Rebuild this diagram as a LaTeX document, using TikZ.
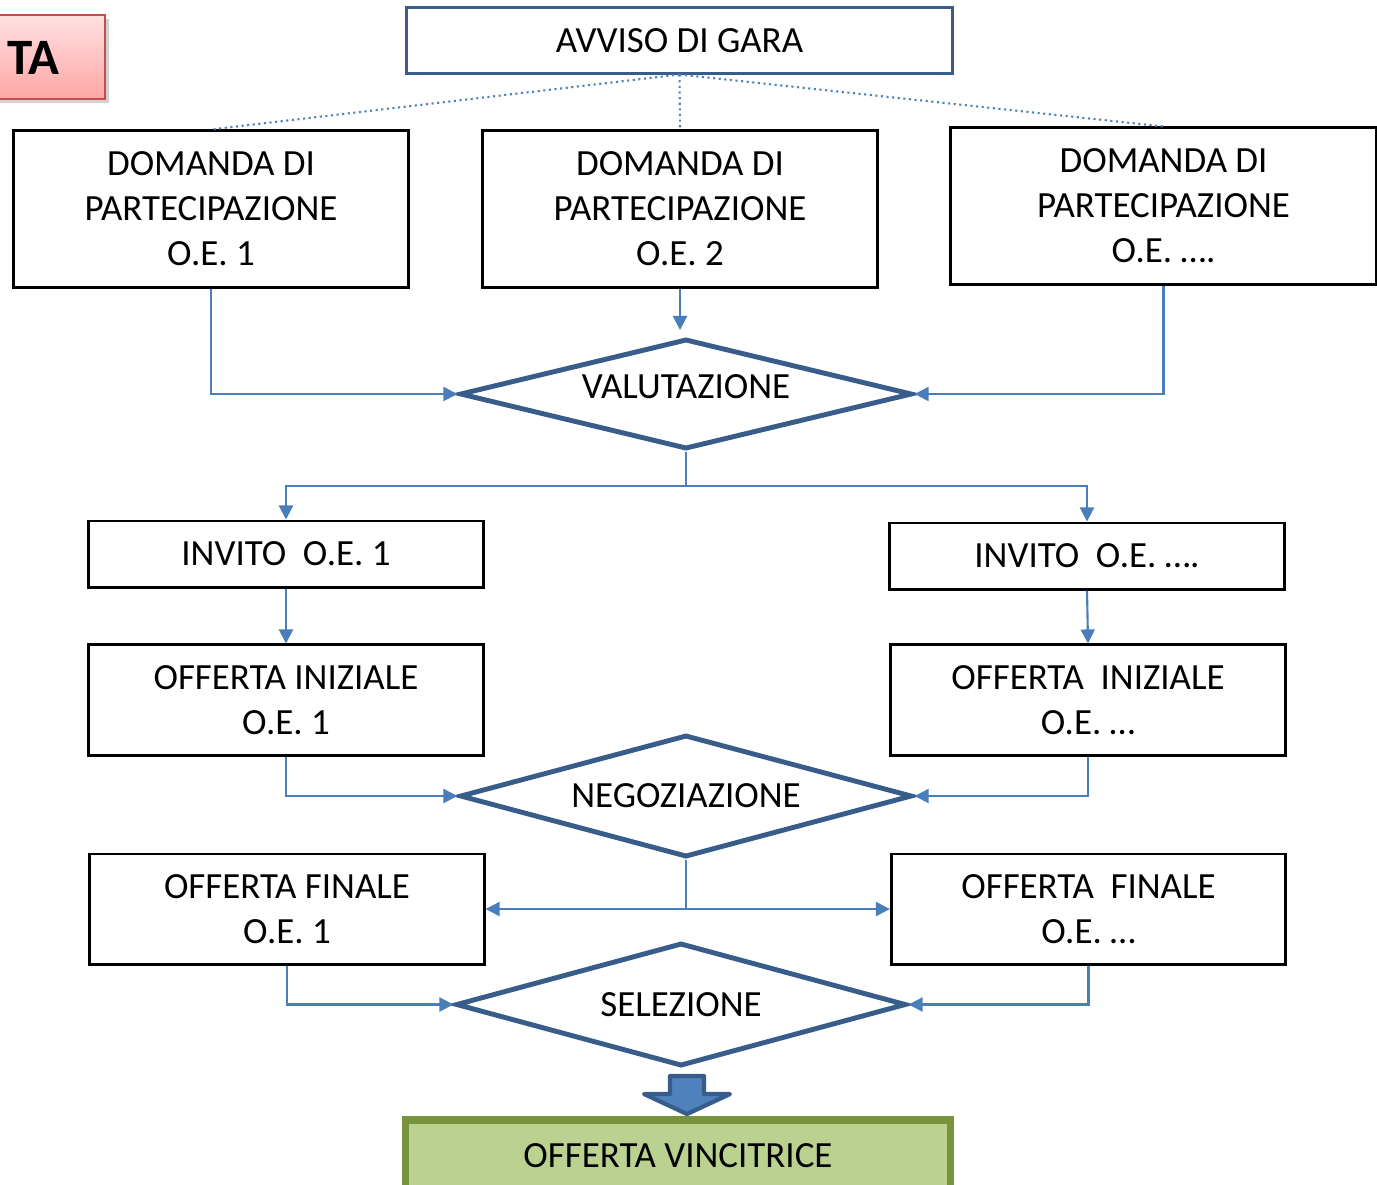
\documentclass[tikz,border=0pt]{standalone}
\usepackage{fontspec}
\setmainfont{Carlito}
\usetikzlibrary{positioning,shapes.geometric,arrows.meta,calc}
\definecolor{cframe}{HTML}{385D8A}
\definecolor{cline}{HTML}{4A7EBB}
\definecolor{cfill}{HTML}{4F81BD}
\definecolor{cgreen}{HTML}{BAD18F}
\definecolor{cgreenb}{HTML}{77933C}
\definecolor{cred}{HTML}{C0504D}

\begin{document}
\begin{tikzpicture}[x=0.01cm, y=-0.01cm,
    every node/.style={font=\fontsize{10.5}{12.8}\selectfont},
    box/.style={draw=black, line width=0.85pt, align=center, inner sep=0pt, minimum width=3.94cm},
    dia/.style={diamond, draw=cframe, line width=1.4pt, inner sep=0pt, minimum width=4.52cm},
    conn/.style={cline, line width=0.6pt, -{Triangle[length=4pt,width=4pt]}},
    link/.style={cline, line width=0.6pt}]
  \useasboundingbox (0,0) rectangle (1377,1184);
  \clip (0,0) rectangle (1377,1184);
  % title tab, cut at the left edge
  \fill[black!18] (-100,19) rectangle (109,103);
  \shade[top color=red!12, bottom color=red!35, draw=cred, line width=0.6pt] (-100,15) rectangle (105,99);
  \node[anchor=east, inner sep=0pt, font=\bfseries\fontsize{14.5}{16}\selectfont] (titolo) at (60,58) {TA};
  % boxes
  \node[box, draw=cframe, minimum width=5.45cm, minimum height=0.65cm] (avviso) at (679.5,40.5) {AVVISO DI GARA};
  \node[box, minimum height=1.56cm] (dom1) at (211,209) {DOMANDA DI\\PARTECIPAZIONE\\O.E. 1};
  \node[box, minimum height=1.56cm] (dom2) at (680,209) {DOMANDA DI\\PARTECIPAZIONE\\O.E. 2};
  \node[box, minimum width=4.25cm, minimum height=1.56cm] (dom3) at (1163.5,206) {DOMANDA DI\\PARTECIPAZIONE\\O.E. ….};
  \node[dia, aspect=4.1, minimum height=1.10cm] (val) at (686,394) {\raisebox{4pt}{VALUTAZIONE}};
  \node[box, minimum height=0.66cm] (inv1) at (286,554) {INVITO~ O.E. 1};
  \node[box, minimum height=0.66cm] (inv2) at (1087,556) {INVITO~ O.E. ….};
  \node[box, minimum height=1.10cm] (ini1) at (286,700) {OFFERTA INIZIALE\\O.E. 1};
  \node[box, minimum height=1.10cm] (ini2) at (1088,700) {OFFERTA~ INIZIALE\\O.E. …};
  \node[dia, aspect=3.7, minimum height=1.22cm] (neg) at (686,796) {NEGOZIAZIONE};
  \node[box, minimum height=1.10cm] (fin1) at (287,909) {OFFERTA FINALE\\O.E. 1};
  \node[box, minimum height=1.10cm] (fin2) at (1088.5,909) {OFFERTA~ FINALE\\O.E. …};
  \node[dia, aspect=3.66, minimum width=4.50cm, minimum height=1.23cm] (sel) at (681,1004.5) {SELEZIONE};
  \node[box, draw=cgreenb, fill=cgreen, line width=2pt, minimum width=5.45cm, minimum height=0.72cm] (vinc) at (678,1156) {OFFERTA VINCITRICE};
  % dotted links from the notice
  \draw[cfill, line width=0.6pt, densely dotted] (avviso.south) -- (dom1.north);
  \draw[cfill, line width=0.6pt, densely dotted] (avviso.south) -- (dom2.north);
  \draw[cfill, line width=0.6pt, densely dotted] (avviso.south) -- (dom3.north);
  % connectors
  \coordinate (valin) at (680,330);
  \coordinate (split1) at (686,486);
  \coordinate (split2) at (686,909);
  \draw[conn] (dom1.south) |- (val.west);
  \draw[conn] (dom2.south) -- (valin);
  \draw[conn] (dom3.south) |- (val.east);
  \draw[link] (val.south) -- (split1);
  \draw[conn] (split1) -| (inv1.north);
  \draw[conn] (split1) -| (inv2.north);
  \draw[conn] (inv1.south) -- (ini1.north);
  \draw[conn] (inv2.south) -- (ini2.north);
  \draw[conn] (ini1.south) |- (neg.west);
  \draw[conn] (ini2.south) |- (neg.east);
  \draw[link] (neg.south) -- (split2);
  \draw[conn] (split2) -- (fin1.east);
  \draw[conn] (split2) -- (fin2.west);
  \draw[conn] (fin1.south) |- (sel.west);
  \draw[conn] (fin2.south) |- (sel.east);
  % block arrow to the winner
  \draw[cframe, fill=cfill, line width=1.2pt, line join=round]
    (670,1076) -- (704,1076) -- (704,1094) -- (730,1094) -- (687,1114)
    -- (644,1094) -- (670,1094) -- cycle;
\end{tikzpicture}
\end{document}
